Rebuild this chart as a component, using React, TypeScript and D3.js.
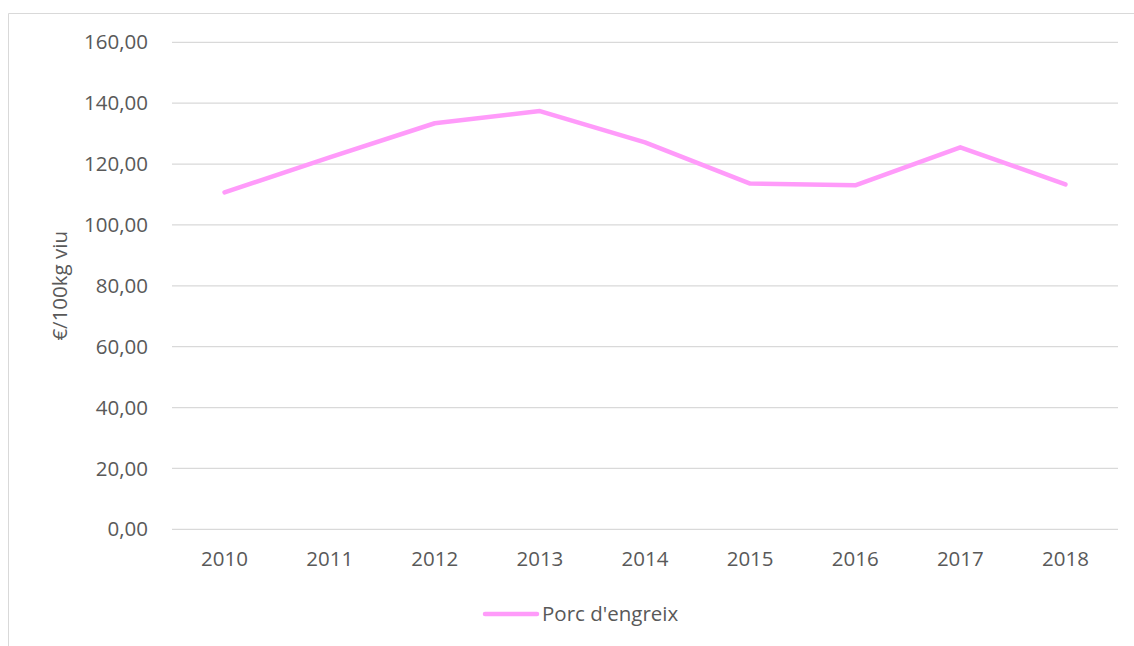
import React from 'react';
import * as d3 from 'd3';

const years = ['2010', '2011', '2012', '2013', '2014', '2015', '2016', '2017', '2018'];
const porcEngreix = [110.7, 122.2, 133.4, 137.4, 127.1, 113.6, 113.0, 125.5, 113.3];
const yTicks = [0, 20, 40, 60, 80, 100, 120, 140, 160];

const W = 1134;
const H = 646;
const plot = { left: 172, right: 1118, top: 42.3, bottom: 529.3 };
const font = "'Open Sans', 'Noto Sans', sans-serif";
const fs = 20.5;
const pink = '#FF9BFA';

const App = () => {
  const x = d3.scaleBand().domain(years).range([plot.left, plot.right]);
  const y = d3.scaleLinear().domain([0, 160]).range([plot.bottom, plot.top]);
  const line = d3.line<number>()
    .x((d, i) => x(years[i])! + x.bandwidth() / 2)
    .y(d => y(d));
  const fmt = (v: number) => v.toFixed(2).replace('.', ',');

  return (
    <svg width={W} height={H} style={{ position: 'absolute', left: 0, top: 0 }}>
      <rect x={0} y={0} width={W} height={H} fill="#fff" />
      <path d={`M8.5,${H} V13.5 H${W}`} fill="none" stroke="#d9d9d9" strokeWidth={1} />
      <g fontFamily={font} fontSize={fs} fill="#595959">
        {yTicks.map(t => (
          <g key={t}>
            <line x1={plot.left} x2={plot.right} y1={y(t)} y2={y(t)} stroke="#d9d9d9" strokeWidth={1.3} />
            <text x={148} y={y(t)} dy="0.35em" textAnchor="end">{fmt(t)}</text>
          </g>
        ))}
        {years.map(yr => (
          <text key={yr} x={x(yr)! + x.bandwidth() / 2} y={566} textAnchor="middle">{yr}</text>
        ))}
        <text transform={`translate(67, ${(plot.top + plot.bottom) / 2}) rotate(-90)`} textAnchor="middle">€/100kg viu</text>
      </g>
      <path d={line(porcEngreix)!} fill="none" stroke={pink} strokeWidth={4.5} strokeLinejoin="round" strokeLinecap="round" />
      <line x1={485} x2={537} y1={614} y2={614} stroke={pink} strokeWidth={4.5} strokeLinecap="round" />
      <text x={542} y={614} dy="0.35em" fontFamily={font} fontSize={fs} fill="#595959">Porc d'engreix</text>
    </svg>
  );
};

export default App;
